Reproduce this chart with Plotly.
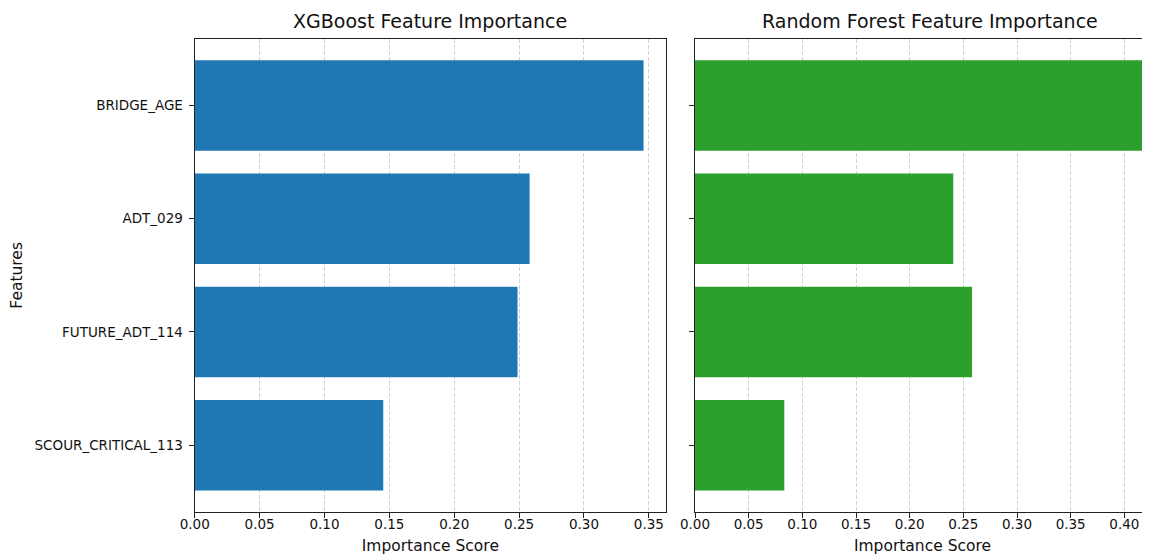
import plotly.graph_objects as go

features = ["SCOUR_CRITICAL_113", "FUTURE_ADT_114", "ADT_029", "BRIDGE_AGE"]
xgb_importance = [0.1453, 0.2488, 0.2581, 0.3459]
rf_importance = [0.0832, 0.2581, 0.2406, 0.4171]
x_ticks = [0.00, 0.05, 0.10, 0.15, 0.20, 0.25, 0.30, 0.35, 0.40]
x_tick_labels = ["0.00", "0.05", "0.10", "0.15", "0.20", "0.25", "0.30", "0.35", "0.40"]

FONT = "DejaVu Sans"
# the page body adds an 8px offset; figure sized to fill the rest of the window
OFF = 8
W, H = 1150 - OFF, 555 - OFF


def px(x):
    return (x - OFF) / W


left_dom = [px(194.7), px(666)]
right_dom = [px(695), 1.0]
y_dom = [43 / H, (H - (38.7 - OFF)) / H]

fig = go.Figure()
fig.add_trace(go.Bar(x=xgb_importance, y=features, orientation="h",
                     marker=dict(color="#1f77b4", line=dict(width=0)),
                     width=0.8, xaxis="x", yaxis="y", showlegend=False))
fig.add_trace(go.Bar(x=rf_importance, y=features, orientation="h",
                     marker=dict(color="#2ca02c", line=dict(width=0)),
                     width=0.8, xaxis="x2", yaxis="y2", showlegend=False))

axis_common = dict(
    showline=True, linecolor="#222", linewidth=1.2,
    ticks="outside", ticklen=5, tickcolor="#222", tickwidth=1,
    tickfont=dict(family=FONT, size=13.5, color="#111"),
    zeroline=False, automargin=False,
)
xgrid = dict(showgrid=True, gridcolor="#d0d0d0", griddash="4px,2px", gridwidth=1)

fig.update_layout(
    width=W, height=H,
    margin=dict(l=0, r=0, t=0, b=0),
    paper_bgcolor="white", plot_bgcolor="white",
    font=dict(family=FONT, color="#111"),
    xaxis=dict(domain=left_dom, range=[0, 0.3632], anchor="y",
               tickvals=x_ticks[:8], ticktext=x_tick_labels[:8],
               mirror=True, ticklabelstandoff=-5,
               title=dict(text="Importance Score", font=dict(family=FONT, size=15.5), standoff=8),
               **xgrid, **axis_common),
    yaxis=dict(domain=y_dom, range=[-0.59, 3.59], anchor="x",
               categoryorder="array", categoryarray=features,
               showgrid=False, mirror=True, ticklabelstandoff=3,
               title=dict(text="Features", font=dict(family=FONT, size=15.5), standoff=14),
               **axis_common),
    xaxis2=dict(domain=right_dom, range=[0, 0.4239], anchor="y2",
                tickvals=x_ticks, ticktext=x_tick_labels,
                mirror=True, ticklabelstandoff=-5,
                title=dict(text="Importance Score", font=dict(family=FONT, size=15.5), standoff=8),
                **xgrid, **axis_common),
    yaxis2=dict(domain=y_dom, range=[-0.59, 3.59], anchor="x2",
                categoryorder="array", categoryarray=features,
                showgrid=False, showticklabels=False, mirror=False,
                **axis_common),
    annotations=[
        dict(text="XGBoost Feature Importance", x=(left_dom[0] + left_dom[1]) / 2,
             y=y_dom[1], xref="paper", yref="paper", xanchor="center", yanchor="bottom",
             yshift=5, showarrow=False, font=dict(family=FONT, size=19, color="#111")),
        dict(text="Random Forest Feature Importance", x=px((695 + 1165) / 2),
             y=y_dom[1], xref="paper", yref="paper", xanchor="center", yanchor="bottom",
             yshift=5, showarrow=False, font=dict(family=FONT, size=19, color="#111")),
    ],
)

fig.write_html("out.html")
